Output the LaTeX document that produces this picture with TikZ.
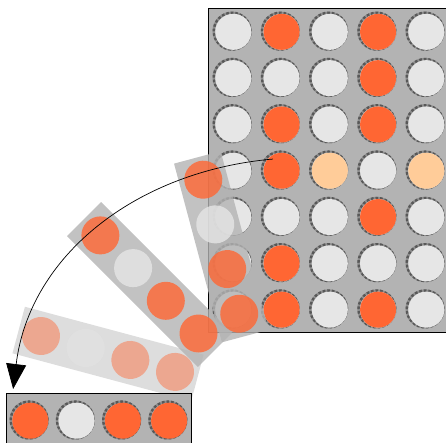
\documentclass[tikz,border=0pt]{standalone}
\usepackage{xcolor}
\usepackage{tikz}
\usetikzlibrary{arrows.meta}

\definecolor{boardgray}{HTML}{B3B3B3}
\definecolor{holedark}{HTML}{585858}
\definecolor{holemid}{HTML}{8E8E8E}
\definecolor{chipred}{HTML}{FF6633}
\definecolor{chipwhite}{HTML}{E6E6E6}
\definecolor{chippeach}{HTML}{FFCC99}

\tikzset{
  board/.style={fill=boardgray, draw=black, line width=0.8pt},
  hole/.style={draw=holemid, line width=2.4pt},
  holerim/.style={draw=holedark, line width=2.4pt, dash pattern=on 2.6pt off 2pt},
  swing/.style={-{Triangle[length=25pt,width=20pt]}, line width=0.7pt}
}

\begin{document}
\begin{tikzpicture}[x=1pt, y=1pt]
    \useasboundingbox (0,0) rectangle (446,442);
    % board
    \draw[board] (208,110) rectangle (449.25,434);
    \foreach \i in {1,...,7}
        \foreach \j in {1,...,5} {
            \coordinate (g-\i-\j) at ({208+48.25*(\j-0.5)}, {434-46.3*(\i-0.5)});
            \draw[hole] (g-\i-\j) circle (18.4pt);
            \draw[holerim] (g-\i-\j) circle (18.4pt);
            \fill[chipwhite] ([shift={(1.2,-0.7)}]g-\i-\j) circle (18pt);
        }
    \foreach \i/\j in {1/2, 1/4, 2/4, 3/2, 3/4, 4/2, 5/4, 6/2, 7/2, 7/4}
        \fill[chipred] ([shift={(1.2,-0.7)}]g-\i-\j) circle (18pt);
    \foreach \i/\j in {4/3, 4/5}
        \fill[chippeach] ([shift={(1.2,-0.7)}]g-\i-\j) circle (18pt);
    % swinging column
    \foreach \sx/\sy/\ang/\op in {41/106/-15/0.45, 100.4/206.6/-45/0.8, 203.3/262.3/-75/0.8} {
        \begin{scope}[shift={(\sx,\sy)}, rotate=\ang, opacity=\op]
            \fill[boardgray] (-23.1,-24.1) rectangle (161.9,24.1);
            \foreach \k/\chip in {0/chipred, 1/chipwhite, 2/chipred, 3/chipred}
                \fill[\chip] (46.25*\k,0) circle (19pt);
        \end{scope}
    }
    % dropped column
    \draw[board] (6,-2) rectangle (191,49);
    \foreach \k/\chip in {1/chipred, 2/chipwhite, 3/chipred, 4/chipred} {
        \coordinate (f-\k) at ({6+46.25*(\k-0.5)}, 22);
        \draw[hole] (f-\k) circle (18.4pt);
        \draw[holerim] (f-\k) circle (18.4pt);
        \fill[\chip] ([shift={(1.2,-0.7)}]f-\k) circle (18pt);
    }
    \coordinate (arcstart) at ([shift={(-7.4,11)}]g-4-2);
    \coordinate (arcend) at ([shift={(-16,31)}]f-1);
    \draw[swing] (arcstart) to[out=185, in=83] (arcend);
\end{tikzpicture}
\end{document}
